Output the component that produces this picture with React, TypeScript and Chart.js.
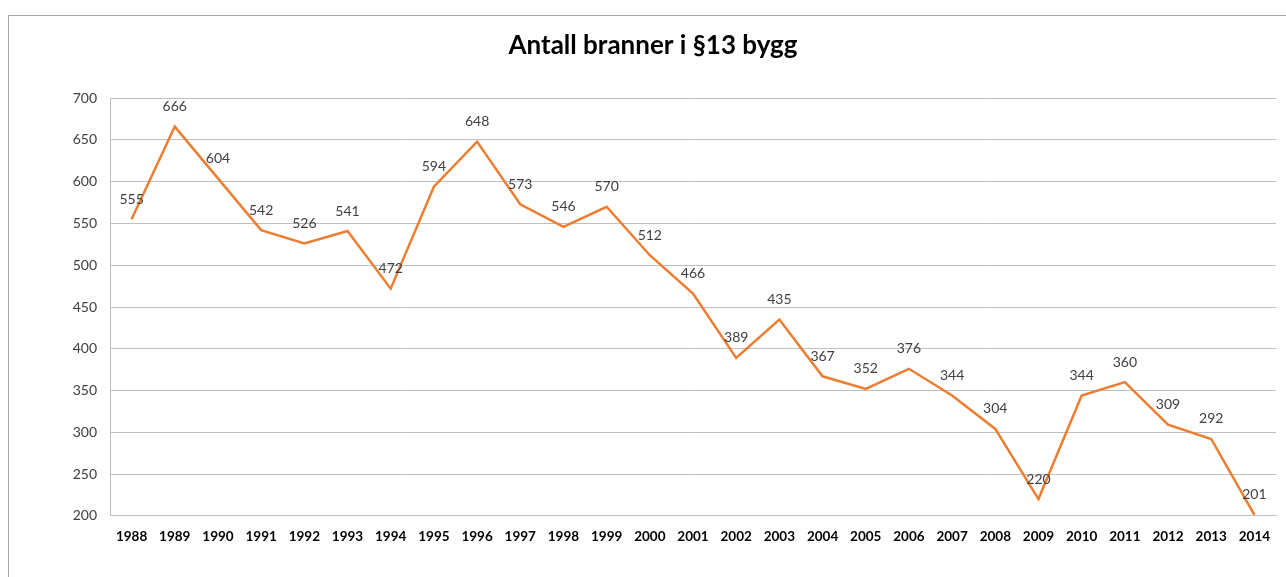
import React, { useEffect, useRef } from "react";
import { Chart, registerables } from "chart.js";

Chart.register(...registerables);

const years: string[] = [
  "1988", "1989", "1990", "1991", "1992", "1993", "1994", "1995", "1996",
  "1997", "1998", "1999", "2000", "2001", "2002", "2003", "2004", "2005",
  "2006", "2007", "2008", "2009", "2010", "2011", "2012", "2013", "2014",
];
const fires: number[] = [
  555, 666, 604, 542, 526, 541, 472, 594, 648, 573, 546, 570, 512, 466, 389,
  435, 367, 352, 376, 344, 304, 220, 344, 360, 309, 292, 201,
];
const chartTitle = "Antall branner i §13 bygg";
const yMin = 200;
const yMax = 700;
const yStep = 50;

const FONT = "Lato, 'Open Sans', sans-serif";

const dataLabels = {
  id: "dataLabels",
  afterDatasetsDraw(chart: any) {
    const ctx = chart.ctx;
    const meta = chart.getDatasetMeta(0);
    const data = chart.data.datasets[0].data as number[];
    ctx.save();
    ctx.font = `14px ${FONT}`;
    ctx.fillStyle = "#404040";
    ctx.textAlign = "center";
    ctx.textBaseline = "middle";
    meta.data.forEach((pt: any, i: number) => {
      ctx.fillText(String(data[i]), pt.x, pt.y - 20);
    });
    ctx.restore();
  },
};

export default function App() {
  const ref = useRef<HTMLCanvasElement | null>(null);
  useEffect(() => {
    if (!ref.current) return;
    const chart = new Chart(ref.current, {
      type: "line",
      data: {
        labels: years,
        datasets: [
          {
            data: fires,
            borderColor: "#ED7D31",
            borderWidth: 2.5,
            pointRadius: 0,
            tension: 0,
            fill: false,
          },
        ],
      },
      options: {
        animation: false,
        responsive: false,
        maintainAspectRatio: false,
        layout: { padding: { left: 21, right: 10, top: 0, bottom: 19 } },
        plugins: {
          legend: { display: false },
          tooltip: { enabled: false },
          title: {
            display: true,
            text: chartTitle,
            color: "#000000",
            font: { family: FONT, size: 26, weight: "bold", lineHeight: 1.2 },
            padding: { top: 14, bottom: 37 },
          },
        },
        scales: {
          x: {
            offset: true,
            grid: { display: false, drawTicks: false },
            border: { display: true, color: "#BFBFBF", width: 1 },
            ticks: {
              color: "#000000",
              font: { family: FONT, size: 13.5, weight: "bold" },
              padding: 13,
              maxRotation: 0,
              autoSkip: false,
            },
          },
          y: {
            min: yMin,
            max: yMax,
            grid: { color: "#BFBFBF", drawTicks: false, lineWidth: 1 },
            border: { display: true, color: "#BFBFBF", width: 1 },
            ticks: {
              stepSize: yStep,
              color: "#404040",
              font: { family: FONT, size: 14 },
              padding: 13,
            },
            afterFit(scale: any) {
              scale.width = 80;
            },
          },
        },
      },
      plugins: [dataLabels],
    });
    return () => chart.destroy();
  }, []);

  return (
    <div
      style={{
        position: "absolute",
        left: 8,
        top: 15,
        width: 1278,
        height: 562,
        borderLeft: "1px solid #A6A6A6",
        borderTop: "1px solid #A6A6A6",
        background: "#fff",
        overflow: "hidden",
      }}
    >
      <canvas ref={ref} width={1277} height={561} style={{ display: "block" }} />
    </div>
  );
}
